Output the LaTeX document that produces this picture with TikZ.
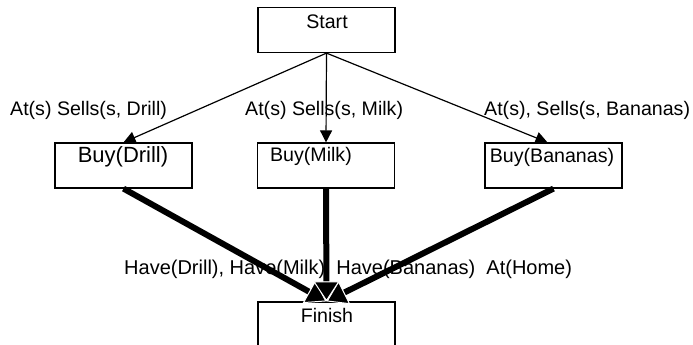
\documentclass[tikz,border=0pt]{standalone}
\usepackage{fontspec}
\setmainfont{Liberation Sans}
\usetikzlibrary{arrows.meta}
\begin{document}
\begin{tikzpicture}[x=1pt,y=-1pt,
  box/.style={draw, line width=1.2pt, minimum width=137pt, minimum height=45pt, inner sep=0pt},
  lbl/.style={font=\fontsize{19.6}{24}\selectfont, inner sep=0pt},
  lightarrow/.style={line width=1.2pt, -{Triangle[length=12pt,width=12pt]}},
  heavyarrow/.style={line width=6pt, -{Triangle[length=20pt,width=26pt,fill=black,color=white,line width=1pt]}}]
\useasboundingbox (0,0) rectangle (693,345);
\node[box] (s) at (326.5,30) {};
\node[box] (d) at (123.5,165.5) {};
\node[box] (m) at (326,165.5) {};
\node[box] (b) at (553.5,165.5) {};
\node[box] (f) at (326.5,324.5) {};
\node[lbl] (ts) at (327,22) {Start};
\node[lbl, font=\fontsize{22}{26}\selectfont] (td) at (123,157) {Buy(Drill)};
\node[lbl] (tm) at (311,156) {Buy(Milk)};
\node[lbl] (tb) at (552,157) {Buy(Bananas)};
\node[lbl] (tf) at (327,315) {Finish};
\node[lbl, anchor=west] (l1) at (10,110) {At(s) Sells(s, Drill)};
\node[lbl, anchor=west] (l2) at (245,110) {At(s) Sells(s, Milk)};
\node[lbl, anchor=west] (l3) at (484,110) {At(s), Sells(s, Bananas)};
\node[lbl, anchor=west, font=\fontsize{20}{24}\selectfont] (l4) at (124,269) {Have(Drill), Have(Milk), Have(Bananas)\ \ At(Home)};
\draw[lightarrow] (s.south) -- (d.north);
\draw[lightarrow] (s.south) -- (m.north);
\draw[lightarrow] (s.south) -- ([xshift=-6pt]b.north);
\draw[heavyarrow] (d.south) -- (f.north);
\draw[heavyarrow] (b.south) -- (f.north);
\draw[heavyarrow] (m.south) -- (f.north);
\end{tikzpicture}
\end{document}
